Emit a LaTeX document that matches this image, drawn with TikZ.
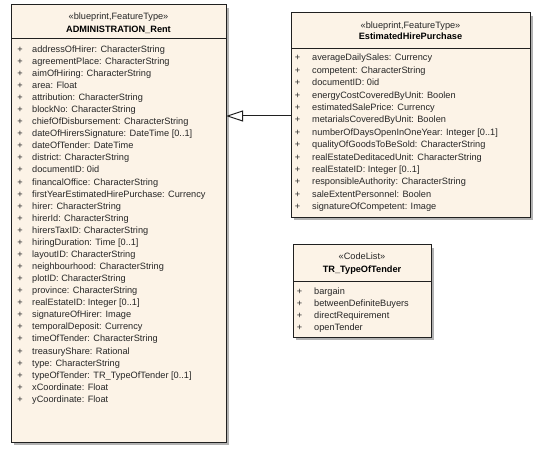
\documentclass[tikz,border=0pt]{standalone}
\usepackage{fontspec}
\setmainfont{Liberation Sans}
\usetikzlibrary{arrows.meta}
\definecolor{classfill}{HTML}{FCF3E7}
\definecolor{classline}{HTML}{202020}
\newcommand\umlfont{\fontsize{9.2bp}{11bp}\selectfont}
\begin{document}
\begin{tikzpicture}[x=1bp,y=-1bp,
  classbox/.style={draw=classline, line width=1bp, fill=classfill, inner sep=0pt, outer sep=0pt, anchor=north west},
  shadowbox/.style={fill=black!30, draw=none},
  sepline/.style={draw=classline, line width=1bp},
  attr/.style={anchor=base west, inner sep=0pt, font=\umlfont, text=black!85},
  plus/.style={anchor=base, inner sep=0pt, font=\umlfont, text=black!85},
  stereo/.style={anchor=base, inner sep=0pt, font=\umlfont, text=black!85},
  cname/.style={anchor=base, inner sep=0pt, font=\umlfont\bfseries},
  gen/.style={draw=classline, line width=1bp, -{Triangle[open, length=17bp, width=11bp, fill=white]}}
]
\useasboundingbox[fill=white] (0,0) rectangle (550,454);

% ---------- ADMINISTRATION_Rent ----------
\fill[shadowbox] (14,8) rectangle (229,445);
\node[classbox, minimum width=215bp, minimum height=437bp] (admin) at (11,5) {};
\draw[sepline] (admin.west |- 0,39) -- (admin.east |- 0,39);
\node[stereo] (adminst) at (118.5,19.5) {«blueprint,FeatureType»};
\node[cname] (adminnm) at (118.5,32.5) {ADMINISTRATION\_Rent};
\foreach \t [count=\i from 0] in {addressOfHirer: CharacterString, agreementPlace: CharacterString, aimOfHiring: CharacterString, area: Float, attribution: CharacterString, blockNo: CharacterString, chiefOfDisbursement: CharacterString, dateOfHirersSignature: DateTime [0..1], dateOfTender: DateTime, district: CharacterString, documentID: 0id, financalOffice: CharacterString, firstYearEstimatedHirePurchase: Currency, hirer: CharacterString, hirerId: CharacterString, hirersTaxID: CharacterString, hiringDuration: Time [0..1], layoutID: CharacterString, neighbourhood: CharacterString, plotID: CharacterString, province: CharacterString, realEstateID: Integer [0..1], signatureOfHirer: Image, temporalDeposit: Currency, timeOfTender: CharacterString, treasuryShare: Rational, type: CharacterString, typeOfTender: TR\_TypeOfTender [0..1], xCoordinate: Float, yCoordinate: Float}{
  \node[plus] (ap\i) at (20,52.3+12.07*\i) {+};
  \node[attr] (aa\i) at (32,52.3+12.07*\i) {\t};
}

% ---------- EstimatedHirePurchase ----------
\fill[shadowbox] (294,16) rectangle (533,220);
\node[classbox, minimum width=239bp, minimum height=204bp] (ehp) at (291,13) {};
\draw[sepline] (ehp.west |- 0,49) -- (ehp.east |- 0,49);
\node[stereo] (ehpst) at (410.5,28.5) {«blueprint,FeatureType»};
\node[cname] (ehpnm) at (410.5,40) {EstimatedHirePurchase};
\foreach \t [count=\i from 0] in {averageDailySales: Currency, competent: CharacterString, documentID: 0id, energyCostCoveredByUnit: Boolen, estimatedSalePrice: Currency, metarialsCoveredByUnit: Boolen, numberOfDaysOpenInOneYear: Integer [0..1], qualityOfGoodsToBeSold: CharacterString, realEstateDeditacedUnit: CharacterString, realEstateID: Integer [0..1], responsibleAuthority: CharacterString, saleExtentPersonnel: Boolen, signatureOfCompetent: Image}{
  \node[plus] (ep\i) at (297.5,61+12.4*\i) {+};
  \node[attr] (ea\i) at (312,61+12.4*\i) {\t};
}

% ---------- TR_TypeOfTender ----------
\fill[shadowbox] (296,248) rectangle (434,340);
\node[classbox, minimum width=138bp, minimum height=92bp] (tot) at (293,245) {};
\draw[sepline] (tot.west |- 0,281) -- (tot.east |- 0,281);
\node[stereo] (totst) at (362,259.5) {«CodeList»};
\node[cname] (totnm) at (362,272.5) {TR\_TypeOfTender};
\foreach \t [count=\i from 0] in {bargain, betweenDefiniteBuyers, directRequirement, openTender}{
  \node[plus] (tp\i) at (299.5,294+12.1*\i) {+};
  \node[attr] (ta\i) at (314,294+12.1*\i) {\t};
}

% ---------- generalization ----------
\draw[gen] (ehp.west |- 0,116) -- (admin.east |- 0,116);
\end{tikzpicture}
\end{document}
